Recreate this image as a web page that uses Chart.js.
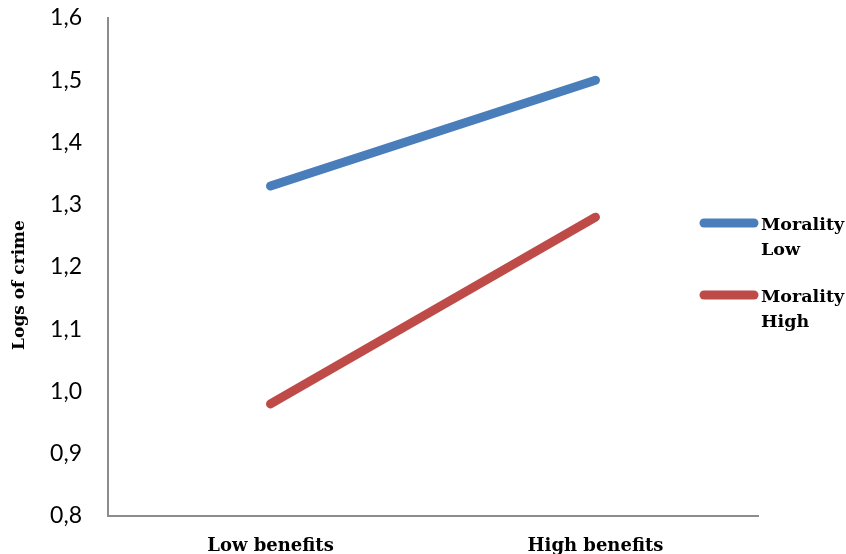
<!DOCTYPE html>
<html lang="en">
<head>
    <meta charset="utf-8" />
    <title>Logs of crime</title>
    <script src="https://cdn.jsdelivr.net/npm/chart.js"></script>
    <style>
        html, body { margin: 0; padding: 0; background: #fff; }
        #wrap { width: 846px; height: 554px; }
    </style>
</head>
<body>
<div id="wrap"><canvas id="crimeChart" width="846" height="554"></canvas></div>

<script>
    // benefit level on the x axis, one line per morality group
    var categories = ['Low benefits', 'High benefits'];
    var seriesNames = ['Morality Low', 'Morality High'];
    var moralityLow = [1.33, 1.50];
    var moralityHigh = [0.98, 1.28];
    var seriesColors = ['#4a7ebb', '#be4b48'];

    // y axis range and step (labels use a decimal comma)
    var yMin = 0.8;
    var yMax = 1.6;
    var yStep = 0.1;
    var yTitle = 'Logs of crime';

    var serifBold = '"DejaVu Serif", serif';

    // legend on the right with the label wrapped one word per line,
    // plus the rotated y-axis title
    var sideText = {
        id: 'sideText',
        afterDraw: function (chart) {
            var ctx = chart.ctx;
            var area = chart.chartArea;
            ctx.save();

            ctx.font = 'bold 17.5px ' + serifBold;
            ctx.textBaseline = 'middle';
            ctx.textAlign = 'left';
            var rows = [223, 295];
            chart.data.datasets.forEach(function (ds, i) {
                var y = rows[i];
                ctx.strokeStyle = ds.borderColor;
                ctx.lineWidth = 9;
                ctx.lineCap = 'round';
                ctx.beginPath();
                ctx.moveTo(area.right - 54, y);
                ctx.lineTo(area.right - 4, y);
                ctx.stroke();
                ctx.fillStyle = '#000';
                ds.label.split(' ').forEach(function (word, k) {
                    ctx.fillText(word, area.right + 3, y + 2 + k * 25);
                });
            });

            ctx.font = 'bold 17px ' + serifBold;
            ctx.translate(20, 285);
            ctx.rotate(-Math.PI / 2);
            ctx.textAlign = 'center';
            ctx.fillText(yTitle, 0, 0);
            ctx.restore();
        }
    };

    var ctx = document.getElementById('crimeChart').getContext('2d');
    var crimeChart = new Chart(ctx, {
        type: 'line',
        data: {
            labels: categories,
            datasets: [{
                label: seriesNames[0],
                data: moralityLow,
                borderColor: seriesColors[0],
                backgroundColor: seriesColors[0]
            }, {
                label: seriesNames[1],
                data: moralityHigh,
                borderColor: seriesColors[1],
                backgroundColor: seriesColors[1]
            }]
        },
        options: {
            responsive: false,
            animation: false,
            layout: {
                padding: { top: 18, right: 88, bottom: 0, left: 0 }
            },
            elements: {
                line: { borderWidth: 9, borderCapStyle: 'round', tension: 0 },
                point: { radius: 0, hoverRadius: 0 }
            },
            plugins: {
                legend: { display: false },
                tooltip: { enabled: false }
            },
            scales: {
                x: {
                    offset: true,
                    grid: { display: false },
                    border: { display: true, color: '#8c8c8c', width: 2 },
                    ticks: {
                        color: '#000',
                        padding: 12,
                        maxRotation: 0,
                        font: { family: serifBold, size: 18, weight: 'bold' }
                    },
                    afterFit: function (scale) { scale.height = 38; }
                },
                y: {
                    min: yMin,
                    max: yMax,
                    grid: { display: false },
                    border: { display: true, color: '#8c8c8c', width: 2 },
                    ticks: {
                        stepSize: yStep,
                        color: '#000',
                        padding: 18,
                        font: { family: 'Lato', size: 23 },
                        callback: function (value) {
                            return value.toFixed(1).replace('.', ',');
                        }
                    },
                    afterFit: function (scale) {
                        scale.width = 108;
                        // top label may hang over the canvas padding
                        scale.paddingTop = 0;
                        scale.paddingBottom = 0;
                    }
                }
            }
        },
        plugins: [sideText]
    });
</script>
</body>
</html>
